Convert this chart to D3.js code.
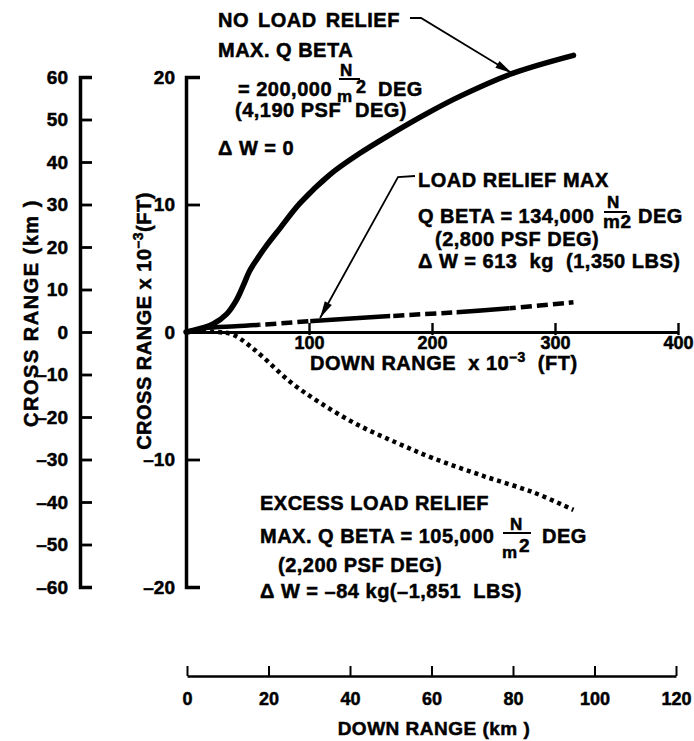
<!DOCTYPE html>
<html><head><meta charset="utf-8">
<script src="https://cdn.jsdelivr.net/npm/d3@7"></script>
<style>
body{margin:0;background:#fff;}
svg{display:block;font-family:"Liberation Sans",Arial,Helvetica,sans-serif;font-weight:bold;}
text{white-space:pre;stroke:#000;stroke-width:0.5px;}
</style></head><body>
<svg id="c" width="694" height="741"></svg>
<script>
// ---- data ----
const downRangeFtTicks = [100, 200, 300, 400];
const crossFtTicks = [20, 10, 0, -10, -20];
const crossKmTicks = [60, 50, 40, 30, 20, 10, 0, -10, -20, -30, -40, -50, -60];
const downKmTicks = [0, 20, 40, 60, 80, 100, 120];

// down range (x1000 ft), cross range (x1000 ft)
const noLoadRelief = [[0,0],[4,0.08],[22,0.63],[33,1.4],[41,2.5],[46.6,3.65],[51.5,4.75],[58,5.75],[66,6.85],[76.4,8.13],[92.7,10.1],[117,12.35],[141,14.0],[168,15.6],[196,17.15],[223,18.5],[266,20.3],[315,21.7]];
const loadReliefMax = [[0,0],[15,0.3],[40,0.45],[60,0.56],[100,0.85],[166,1.25],[220,1.55],[263,1.86],[315,2.33]];
const loadReliefSolidRanges = [[0,60],[101,166],[220,263]];
const loadReliefDashedRanges = [[60,101],[166,220],[263,320]];
const excessLoadRelief = [[0,0],[25,0],[38,-0.2],[50,-0.95],[62.6,-1.96],[84.6,-3.9],[109,-5.55],[139,-7.25],[171.5,-8.7],[201,-9.9],[242,-11.3],[283,-12.6],[315,-13.95]];
const arrowTips = {noRelief: [265, 20.3], relief: [109, 1.1]};

// ---- chart ----
const svg = d3.select("#c");
const x = d3.scaleLinear([0, 400], [186, 678]);
const y = d3.scaleLinear([-20, 20], [587, 77]);
const yKm = d3.scaleLinear([-60, 60], [587, 77]);
const xKm = d3.scaleLinear([0, 120], [187, 676]);
const fmt = d => d < 0 ? "\u2013" + Math.abs(d) : String(d);

const line = d3.line().x(d => x(d[0])).y(d => y(d[1])).curve(d3.curveCatmullRom.alpha(0.5));

// clip paths for load relief solid/dashed parts
const defs = svg.append("defs");
const mkClip = (id, ranges) => {
  const cp = defs.append("clipPath").attr("id", id);
  cp.selectAll("rect").data(ranges).join("rect")
    .attr("x", d => x(d[0])).attr("width", d => x(d[1]) - x(d[0]))
    .attr("y", 0).attr("height", 741);
};
mkClip("solidClip", loadReliefSolidRanges);
mkClip("dashClip", loadReliefDashedRanges);

// curves
svg.append("path").datum(excessLoadRelief).attr("d", line)
  .attr("fill", "none").attr("stroke", "#000").attr("stroke-width", 4.5)
  .attr("stroke-dasharray", "4,4");
svg.append("path").datum(loadReliefMax).attr("d", line).attr("clip-path", "url(#solidClip)")
  .attr("fill", "none").attr("stroke", "#000").attr("stroke-width", 4.5);
svg.append("path").datum(loadReliefMax).attr("d", line).attr("clip-path", "url(#dashClip)")
  .attr("fill", "none").attr("stroke", "#000").attr("stroke-width", 4.5)
  .attr("stroke-dasharray", "11,5");
svg.append("path").datum(noLoadRelief).attr("d", line)
  .attr("fill", "none").attr("stroke", "#000").attr("stroke-width", 5.5)
  .attr("stroke-linecap", "round");

function styleAxis(g, w, fs) {
  g.select(".domain").attr("stroke-width", w);
  g.selectAll(".tick line").attr("stroke-width", w * 0.8);
  g.selectAll(".tick text").attr("font-size", fs).attr("font-family", null).attr("fill", "#000");
  g.attr("font-family", null);
}

// outer km axis
const gKm = svg.append("g").attr("transform", "translate(80,0)")
  .call(d3.axisLeft(yKm).tickValues(crossKmTicks).tickFormat(fmt)
    .tickSizeInner(-12).tickSizeOuter(-12).tickPadding(12));
styleAxis(gKm, 3.5, 19);

// inner ft axis
const gFt = svg.append("g").attr("transform", "translate(186,0)")
  .call(d3.axisLeft(y).tickValues(crossFtTicks).tickFormat(fmt)
    .tickSizeInner(-14).tickSizeOuter(-14).tickPadding(11));
styleAxis(gFt, 3.5, 19);
gFt.selectAll(".tick").filter(d => d === 0).select("line").remove();

// x ft axis
const gX = svg.append("g").attr("transform", `translate(0,${y(0)})`)
  .call(d3.axisBottom(x).tickValues(downRangeFtTicks).tickFormat(fmt)
    .tickSizeInner(-9).tickSizeOuter(0).tickPadding(4));
styleAxis(gX, 3, 18);
gX.selectAll(".tick line").attr("y1", 3);

// bottom km axis
const gXk = svg.append("g").attr("transform", "translate(0,676)")
  .call(d3.axisBottom(xKm).tickValues(downKmTicks).tickFormat(fmt)
    .tickSizeInner(-10).tickSizeOuter(0).tickPadding(16));
styleAxis(gXk, 2.5, 18);

// axis titles
svg.append("text").attr("transform", "translate(38,313) rotate(-90)")
  .attr("text-anchor", "middle").attr("font-size", 20).attr("letter-spacing", 1.5)
  .text("CROSS RANGE (km )");
const t2 = svg.append("text").attr("transform", "translate(151,321) rotate(-90)")
  .attr("text-anchor", "middle").attr("font-size", 20).attr("letter-spacing", 0.5);
t2.append("tspan").text("CROSS RANGE x 10");
t2.append("tspan").attr("font-size", 14).attr("dy", "-0.55em").text("\u20133");
t2.append("tspan").attr("dy", "0.4em").text("(FT)");

const t3 = svg.append("text").attr("x", 310).attr("y", 370).attr("font-size", 20).attr("letter-spacing", 0.5);
t3.append("tspan").text("DOWN RANGE  x 10");
t3.append("tspan").attr("font-size", 14).attr("dy", "-0.55em").text("\u20133");
t3.append("tspan").attr("dy", "0.4em").text("  (FT)");

svg.append("text").attr("x", 434).attr("y", 735).attr("text-anchor", "middle")
  .attr("font-size", 19).attr("letter-spacing", 0.5).text("DOWN RANGE (km )");

// annotation helpers
function txt(xp, yp, s, fs = 20, extra = {}) {
  const t = svg.append("text").attr("x", xp).attr("y", yp).attr("font-size", fs)
    .attr("letter-spacing", 0.5).text(s);
  for (const k in extra) t.attr(k, extra[k]);
  return t;
}
function bar(x1, x2, yp) {
  svg.append("line").attr("x1", x1).attr("x2", x2).attr("y1", yp).attr("y2", yp)
    .attr("stroke", "#000").attr("stroke-width", 2);
}
function leader(pts, tip) {
  const all = pts.concat([tip]);
  svg.append("path").attr("d", d3.line()(all)).attr("fill", "none")
    .attr("stroke", "#000").attr("stroke-width", 1.8);
  const p = all[all.length - 2];
  const a = Math.atan2(tip[1] - p[1], tip[0] - p[0]);
  const L = 17, W = 4;
  const bx = tip[0] - L * Math.cos(a), by = tip[1] - L * Math.sin(a);
  const px = -Math.sin(a) * W, py = Math.cos(a) * W;
  svg.append("path").attr("d", `M${tip[0]},${tip[1]}L${bx + px},${by + py}L${bx - px},${by - py}Z`)
    .attr("fill", "#000");
}

// block 1
txt(218, 27, "NO LOAD RELIEF", 20, {"word-spacing": 3});
txt(218, 57, "MAX. Q BETA");
txt(238, 96, "= 200,000");
txt(340, 76, "N", 17); bar(339, 360, 79); txt(337, 102, "m", 17); txt(356, 93, "2", 18);
txt(378, 96, "DEG");
txt(235, 117, "(4,190 PSF");
txt(355, 117, "DEG)");
txt(218, 155, "\u0394 W = 0");
leader([[410, 18], [421, 18]], [x(arrowTips.noRelief[0]), y(arrowTips.noRelief[1])]);

// block 2
txt(418, 187, "LOAD RELIEF MAX");
txt(418, 223, "Q BETA = 134,000");
txt(607, 208, "N", 17); bar(604, 627, 212); txt(603, 228, "m2", 19);
txt(638, 223, "DEG");
txt(435, 246, "(2,800 PSF DEG)");
txt(418, 268, "\u0394 W = 613  kg  (1,350 LBS)");
leader([[415, 176], [398, 177]], [x(arrowTips.relief[0]), y(arrowTips.relief[1])]);

// block 3
txt(260, 510, "EXCESS LOAD RELIEF");
txt(260, 543, "MAX. Q BETA = 105,000");
txt(510, 530, "N", 17); bar(503, 531, 533); txt(502, 558, "m", 17); txt(519, 552, "2", 19);
txt(542, 543, "DEG");
txt(278, 572, "(2,200 PSF DEG)");
txt(260, 598, "\u0394 W = \u201384 kg(\u20131,851  LBS)");
</script>
</body></html>
